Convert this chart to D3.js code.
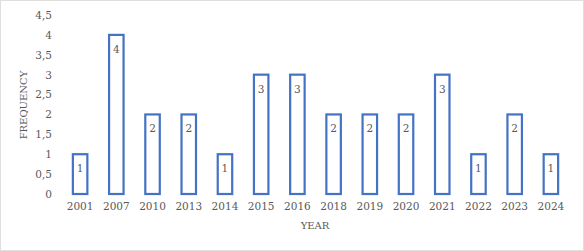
<!DOCTYPE html>
<html>
<head>
<meta charset="utf-8">
<script src="https://cdn.jsdelivr.net/npm/d3@7"></script>
<style>
  body { margin: 0; background: #fff; }
  svg { display: block; }
</style>
</head>
<body>
<div id="chart"></div>
<script>
(function() {

  var years = ["2001", "2007", "2010", "2013", "2014", "2015", "2016", "2018", "2019", "2020", "2021", "2022", "2023", "2024"];
  var counts = [1, 4, 2, 2, 1, 3, 3, 2, 2, 2, 3, 1, 2, 1];
  var yticks = [0, 0.5, 1, 1.5, 2, 2.5, 3, 3.5, 4, 4.5];

  var W = 584, H = 251;
  var font = "'DejaVu Serif', 'Liberation Serif', serif";

  var svg = d3.select("#chart").append("svg")
      .attr("width", W)
      .attr("height", H);

  svg.append("rect")
      .attr("x", 0.5).attr("y", 0.5)
      .attr("width", W - 1).attr("height", H - 1)
      .attr("fill", "#fff")
      .attr("stroke", "#bfbfbf")
      .attr("stroke-dasharray", "1,1");

  var x = d3.scaleBand().domain(years).range([62, 569]).paddingInner(0.6).paddingOuter(0.3);
  var y = d3.scaleLinear().domain([0, 4.5]).range([194, 15]);

  var yAxis = svg.append("g")
      .attr("transform", "translate(56,0)")
      .call(d3.axisLeft(y).tickValues(yticks).tickSize(0).tickPadding(4)
        .tickFormat(function(d) { return String(d).replace(".", ","); }));
  yAxis.select(".domain").remove();
  yAxis.selectAll("text")
      .attr("fill", "#595959")
      .style("font-family", font)
      .style("font-size", "10.5px");

  var xAxis = svg.append("g")
      .attr("transform", "translate(0,194)")
      .call(d3.axisBottom(x).tickSize(0).tickPadding(9));
  xAxis.select(".domain").remove();
  xAxis.selectAll("text")
      .attr("fill", "#595959")
      .style("font-family", font)
      .style("font-size", "10.5px");

  svg.selectAll("rect.bar")
      .data(counts)
      .enter().append("rect")
      .attr("class", "bar")
      .attr("x", function(d, i) { return x(years[i]); })
      .attr("y", function(d) { return y(d); })
      .attr("width", x.bandwidth())
      .attr("height", function(d) { return y(0) - y(d); })
      .attr("fill", "#fff")
      .attr("stroke", "#4472c4")
      .attr("stroke-width", 2.2);

  svg.selectAll("text.lbl")
      .data(counts)
      .enter().append("text")
      .attr("class", "lbl")
      .attr("x", function(d, i) { return x(years[i]) + x.bandwidth() / 2; })
      .attr("y", function(d) { return y(d) + 18; })
      .attr("text-anchor", "middle")
      .attr("fill", "#595959")
      .style("font-family", font)
      .style("font-size", "10.5px")
      .text(function(d) { return d; });

  svg.append("text")
      .attr("x", 315).attr("y", 229)
      .attr("text-anchor", "middle")
      .attr("fill", "#595959")
      .style("font-family", font)
      .style("font-size", "10px")
      .text("YEAR");

  svg.append("text")
      .attr("transform", "translate(27,105) rotate(-90)")
      .attr("text-anchor", "middle")
      .attr("fill", "#595959")
      .style("font-family", font)
      .style("font-size", "10px")
      .text("FREQUENCY");

})();
</script>
</body>
</html>
